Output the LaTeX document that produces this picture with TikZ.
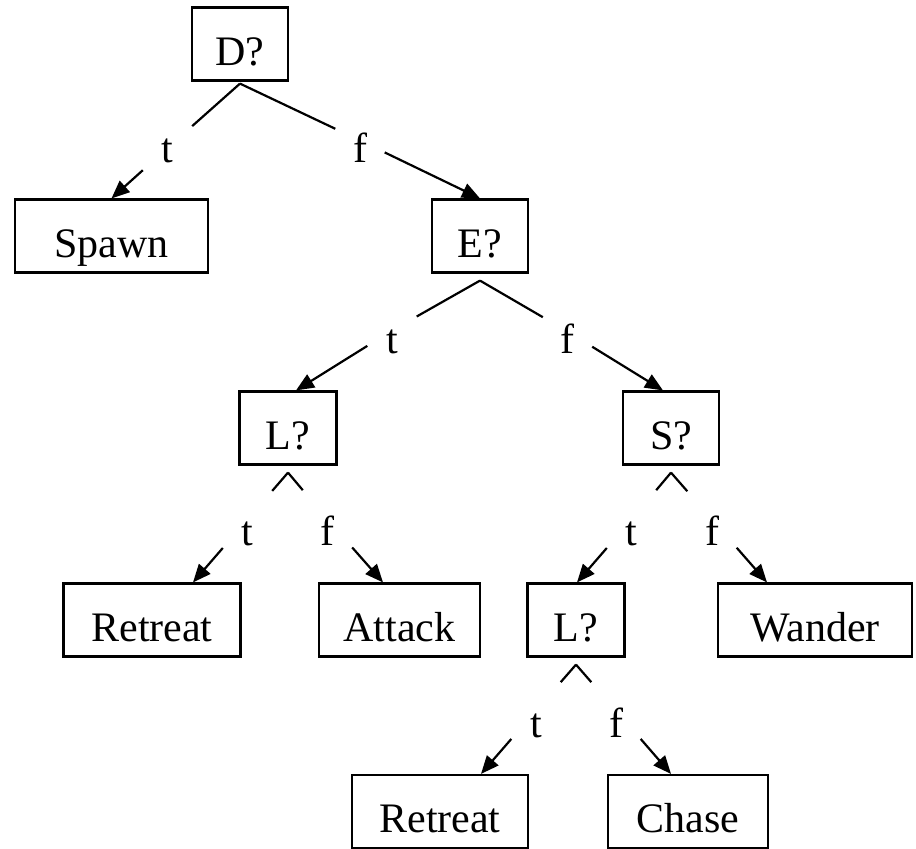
\documentclass[tikz,border=0pt]{standalone}
\usepackage{fontspec}
\setmainfont{Liberation Serif}
\usetikzlibrary{arrows.meta}
\tikzset{
  treefont/.style={font=\fontsize{42pt}{50pt}\selectfont},
  tnode/.style={draw=black,line width=2.2pt,inner sep=0pt,text height=57.5pt,text depth=15.5pt,treefont},
  decnode/.style={tnode,minimum width=96pt},
  leafnode/.style={tnode,minimum width=#1},
  brlabel/.style={inner sep=0pt,minimum width=49pt,minimum height=60pt,text depth=0pt,text height=#1,treefont},
  branch/.style={line width=2.2pt,draw=black},
  brarrow/.style={branch,-{Triangle[length=18pt,width=15pt]}}
}
\begin{document}
\begin{tikzpicture}[x=1pt,y=-1pt]
  \useasboundingbox (0,0) rectangle (916,849);
  % decisions
  \node[decnode] (D) at (240,44) {D?};
  \node[decnode] (E) at (480,236) {E?};
  \node[decnode,minimum width=97pt] (L1) at (288,428) {L?};
  \node[decnode] (S) at (671,428) {S?};
  \node[decnode,minimum width=97pt] (L2) at (576,620) {L?};
  % actions
  \node[leafnode=193pt] (spawn) at (111.5,236) {Spawn};
  \node[leafnode=177pt] (retreatA) at (152,620) {Retreat};
  \node[leafnode=161pt] (attack) at (399.5,620) {Attack};
  \node[leafnode=194pt] (wander) at (815,620) {Wander};
  \node[leafnode=176pt] (retreatB) at (440,811.5) {Retreat};
  \node[leafnode=160pt] (chase) at (688,811.5) {Chase};
  % forks under the tests
  \coordinate (D-fork) at ([yshift=-2pt]D.south);
  \coordinate (E-fork) at ([yshift=-7pt]E.south);
  \coordinate (L1-fork) at ([yshift=-7pt]L1.south);
  \coordinate (S-fork) at ([yshift=-7pt]S.south);
  \coordinate (L2-fork) at ([yshift=-7pt]L2.south);
  % branch labels
  \node[brlabel=28pt] (D-t) at (167.5,148) {t};
  \node[brlabel=43pt] (D-f) at (360,140.5) {f};
  \node[brlabel=45pt] (E-t) at (392,330.5) {t};
  \node[brlabel=43pt] (E-f) at (567.5,331.5) {f};
  \node[brlabel=51pt] (L1-t) at (247.5,519.5) {t};
  \node[brlabel=51pt] (L1-f) at (327.5,519.5) {f};
  \node[brlabel=51pt] (S-t) at (631.5,519.5) {t};
  \node[brlabel=51pt] (S-f) at (712,519.5) {f};
  \node[brlabel=53pt] (L2-t) at (536,710.5) {t};
  \node[brlabel=53pt] (L2-f) at (616,710.5) {f};
  % branches
  \draw[branch] (D-fork) -- (D-t); \draw[brarrow] (D-t) -- (spawn.north);
  \draw[branch] (D-fork) -- (D-f); \draw[brarrow] (D-f) -- (E.north);
  \draw[branch] (E-fork) -- (E-t); \draw[brarrow] (E-t) -- ([xshift=8pt]L1.north);
  \draw[branch] (E-fork) -- (E-f); \draw[brarrow] (E-f) -- ([xshift=-8pt]S.north);
  \draw[branch] (L1-fork) -- (L1-t); \draw[brarrow] (L1-t) -- ([xshift=41pt]retreatA.north);
  \draw[branch] (L1-fork) -- (L1-f); \draw[brarrow] (L1-f) -- ([xshift=-16.5pt]attack.north);
  \draw[branch] (S-fork) -- (S-t); \draw[brarrow] (S-t) -- ([xshift=1pt]L2.north);
  \draw[branch] (S-fork) -- (S-f); \draw[brarrow] (S-f) -- ([xshift=-48pt]wander.north);
  \draw[branch] (L2-fork) -- (L2-t); \draw[brarrow] (L2-t) -- ([xshift=41pt]retreatB.north);
  \draw[branch] (L2-fork) -- (L2-f); \draw[brarrow] (L2-f) -- ([xshift=-17pt]chase.north);
\end{tikzpicture}
\end{document}
